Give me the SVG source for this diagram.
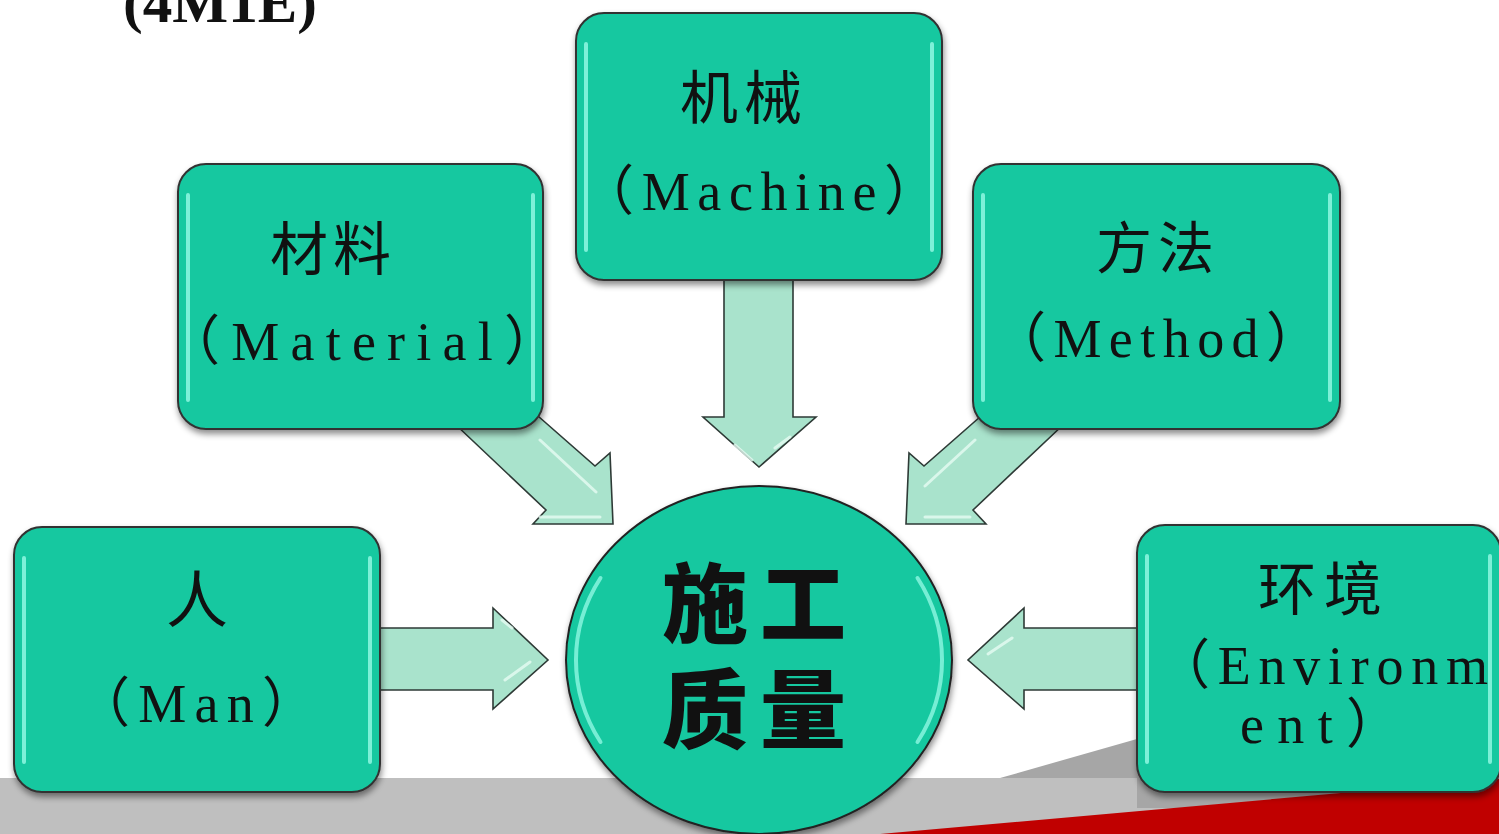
<svg xmlns="http://www.w3.org/2000/svg" width="1499" height="834" viewBox="0 0 1499 834">
<defs>
<filter id="sh" x="-10%" y="-10%" width="120%" height="125%">
<feDropShadow dx="1" dy="4" stdDeviation="3" flood-color="#000" flood-opacity="0.45"/>
</filter>
<style>
.box{fill:#16c8a0;stroke:#333;stroke-width:2;filter:url(#sh)}
.hl{fill:none;stroke:#8ff7e2;stroke-width:4;stroke-linecap:round;opacity:0.85}
.arr{fill:#a9e3cc;stroke:#2e3a36;stroke-width:1.6;stroke-linejoin:miter}
.ahl{fill:none;stroke:#e6fbf3;stroke-width:3;stroke-linecap:round;opacity:0.8}
.cn{font-family:"Noto Sans CJK SC","Noto Sans CJK TC",sans-serif;fill:#111}
.en{font-family:"Liberation Serif","Noto Sans CJK SC",serif;fill:#111}
</style>
</defs>
<rect width="1499" height="834" fill="#fff"/>
<g id="background">
<rect x="0" y="778" width="1499" height="56" fill="#bfbfbf"/>
<polygon points="1000,778 1499,636 1499,779 1180,808 1137,808 1137,778" fill="#a6a6a6"/>
<polygon points="880,834 1499,779 1499,834" fill="#c00000"/>
</g>
<text id="title" x="123" y="22" font-family="Liberation Serif, serif" font-weight="700" font-size="58" textLength="194" lengthAdjust="spacingAndGlyphs" fill="#111">(4M1E)</text>
<g id="connectors">
<polygon class="arr" points="724,275 793,275 793,417 816,417 759,467 703,417 724,417"/>
<path class="ahl" d="M735,445 L752,460 M790,437 L775,448"/>
<polygon class="arr" points="455,424 546,510 533,524 613,524 610,453 595,466 530,409"/>
<path class="ahl" d="M540,440 L596,492 M540,517 L600,517"/>
<polygon class="arr" points="1064,424 973,510 986,524 906,524 909,453 924,466 989,409"/>
<path class="ahl" d="M975,440 L925,486 M925,517 L970,517"/>
<polygon class="arr" points="378,628 493,628 493,608 548,660 493,709 493,690 378,690"/>
<path class="ahl" d="M505,680 L530,662 M502,620 L512,628"/>
<polygon class="arr" points="1140,628 1024,628 1024,608 968,660 1024,709 1024,690 1140,690"/>
<path class="ahl" d="M988,654 L1012,638"/>
</g>
<g id="material">
<rect class="box" x="178" y="164" width="365" height="265" rx="28"/>
<path class="hl" d="M188,195 L188,400 M533,195 L533,400"/>
<text class="cn" x="270" y="270" font-size="58" letter-spacing="5">材料</text>
<text class="en" x="166" y="360" font-size="54" textLength="392" lengthAdjust="spacing">（Material）</text>
</g>
<g id="machine">
<rect class="box" x="576" y="13" width="366" height="267" rx="28"/>
<path class="hl" d="M586,44 L586,250 M932,44 L932,250"/>
<text class="cn" x="680" y="119" font-size="58" letter-spacing="6">机械</text>
<text class="en" x="580" y="210" font-size="54" textLength="358" lengthAdjust="spacing">（Machine）</text>
</g>
<g id="method">
<rect class="box" x="973" y="164" width="367" height="265" rx="28"/>
<path class="hl" d="M983,195 L983,400 M1330,195 L1330,400"/>
<text class="cn" x="1096" y="268" font-size="56" letter-spacing="6">方法</text>
<text class="en" x="992" y="357" font-size="54" textLength="328" lengthAdjust="spacing">（Method）</text>
</g>
<g id="man">
<rect class="box" x="14" y="527" width="366" height="265" rx="28"/>
<path class="hl" d="M24,558 L24,762 M370,558 L370,762"/>
<text class="cn" x="197" y="623" font-size="62" text-anchor="middle">人</text>
<text class="en" x="76" y="722" font-size="54" textLength="240" lengthAdjust="spacing">（Man）</text>
</g>
<g id="environment">
<rect class="box" x="1137" y="525" width="364" height="267" rx="28"/>
<path class="hl" d="M1147,556 L1147,762 M1490,556 L1490,762"/>
<text class="cn" x="1258" y="610" font-size="58" letter-spacing="8">环境</text>
<text class="en" x="1156" y="684" font-size="54" textLength="332" lengthAdjust="spacing">（Environm</text>
<text class="en" x="1240" y="743" font-size="54" textLength="160" lengthAdjust="spacing">ent）</text>
</g>
<g id="quality">
<ellipse cx="759" cy="660" rx="193" ry="174" fill="#16c8a0" stroke="#222" stroke-width="2" filter="url(#sh)"/>
<path d="M600.5,742 A183,164 0 0 1 600.5,578" fill="none" stroke="#8ff7e2" stroke-width="4" stroke-linecap="round" opacity="0.8"/>
<path d="M917.5,578 A183,164 0 0 1 917.5,742" fill="none" stroke="#8ff7e2" stroke-width="4" stroke-linecap="round" opacity="0.8"/>
<text class="cn" x="662" y="636" font-size="86" font-weight="900" letter-spacing="12">施工</text>
<text class="cn" x="662" y="742" font-size="86" font-weight="900" letter-spacing="12">质量</text>
</g>
</svg>
